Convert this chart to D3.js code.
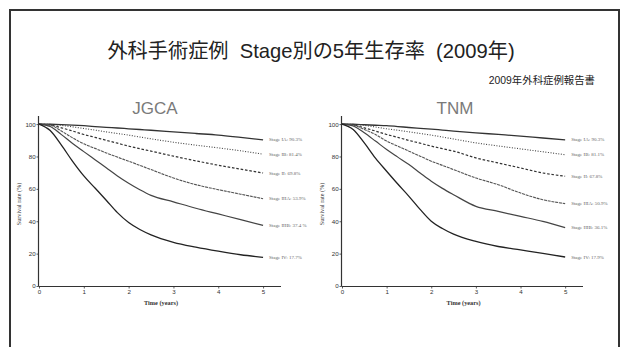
<!DOCTYPE html>
<html><head><meta charset="utf-8">
<script src="https://cdn.jsdelivr.net/npm/d3@7/dist/d3.min.js"></script>
<style>body{margin:0;background:#fff;}svg{display:block;}</style>
</head><body>
<svg id="c" width="623" height="347"></svg>
<script>
const times = [0,0.25,0.5,0.75,1,1.25,1.5,1.75,2,2.25,2.5,3,3.5,4,4.5,5];
const stages = ["IA","IB","II","IIIA","IIIB","IV"];
const xTicks = [0,1,2,3,4,5];
const yTicks = [0,20,40,60,80,100];

const jgcaIA   = [100,99.9,99.7,99.4,99,98.5,98,97.6,97.1,96.65,96.2,95.2,94.2,93.2,91.8,90.3];
const jgcaIB   = [100,99.8,99.2,98.3,97.3,96.3,95.2,94.2,93.2,92.0,90.9,88.8,87,85.3,83.5,81.4];
const jgcaII   = [100,99.4,97.7,95.7,93.6,91.8,90,88.2,86.4,84.8,83.3,80.2,77.3,74.6,72.2,69.8];
const jgcaIIIA = [100,99.4,95.7,91.5,87.8,85,82.2,79.6,77.1,74.5,71.9,66.7,62.6,59.5,56.7,53.9];
const jgcaIIIB = [100,98.5,93.5,88,83,78,73,68,63.5,59.5,56,52,48,44.5,41,37.4];
const jgcaIV   = [100,96,87,77,68,60.5,53,45.3,39.2,34.9,31.6,27,24,21.5,19.3,17.7];
const jgcaLabels = ["Stage IA: 90.3%","Stage IB: 81.4%","Stage II: 69.8%","Stage IIIA: 53.9%","Stage IIIB: 37.4 %","Stage IV: 17.7%"];

const tnmIA   = [100,99.9,99.6,99.3,99,98.5,97.9,97.4,96.9,96.3,95.7,94.6,93.6,92.6,91.4,90.3];
const tnmIB   = [100,99.8,99.2,98.2,97.1,96.2,95.2,94.2,93.2,92.0,90.8,88.4,86.5,84.7,82.9,81.1];
const tnmII   = [100,99.4,97.7,95.7,93.6,91.8,89.9,88.2,86.4,84.8,83.3,79.1,76,72.9,69.8,67.8];
const tnmIIIA = [100,99.4,96.7,93.6,89.5,86.4,83.3,80.2,77.1,74.5,71.9,66.7,62.6,57.4,53.3,50.9];
const tnmIIIB = [100,98.8,94.6,89.5,84.3,79.6,75,69.8,64.7,60.3,56.4,49.2,46.1,43,39.9,36.1];
const tnmIV   = [100,96.7,88.4,79,70.9,63,55.4,47.3,40,35.5,32,27.5,24.4,22.3,20.2,17.9];
const tnmLabels = ["Stage IA: 90.3%","Stage IB: 81.1%","Stage II: 67.8%","Stage IIIA: 50.9%","Stage IIIB: 36.1%","Stage IV: 17.9%"];

const styles = [
  {stroke:"#333", dash:null, w:1.3},
  {stroke:"#444", dash:"1,1.6", w:1.1},
  {stroke:"#333", dash:"2.6,1.8", w:1.2},
  {stroke:"#555", dash:"3,0.8", w:1.1},
  {stroke:"#444", dash:null, w:1.2},
  {stroke:"#222", dash:null, w:1.3}
];

const svg = d3.select("#c");
const sans = "'Liberation Sans', Arial, 'Noto Sans CJK JP', sans-serif";
const serif = "'Liberation Serif', 'Times New Roman', serif";

// slide frame
svg.append("path").attr("d","M10,400 V10 H619 V400").attr("fill","none").attr("stroke","#333").attr("stroke-width",2);

// title
svg.append("text").attr("x",311).attr("y",58).attr("text-anchor","middle")
  .attr("font-family",sans).attr("font-size",20.2).attr("fill","#222")
  .attr("xml:space","preserve").style("white-space","pre")
  .text("外科手術症例  Stage別の5年生存率  (2009年)");
svg.append("text").attr("x",595).attr("y",83.5).attr("text-anchor","end")
  .attr("font-family",sans).attr("font-size",10.4).attr("fill","#222")
  .text("2009年外科症例報告書");

function panel(title, titleX, x0, x1, curves, labels){
  const x = d3.scaleLinear().domain([0,5.4]).range([x0,x1]);
  const y = d3.scaleLinear().domain([0,105]).range([286,116]);
  svg.append("text").attr("x",titleX).attr("y",113.5).attr("text-anchor","middle")
    .attr("font-family",sans).attr("font-size",17).attr("fill","#7a7a7a").text(title);

  const gx = svg.append("g").attr("transform","translate(0,286)")
    .call(d3.axisBottom(x).tickValues(xTicks).tickSize(2.5).tickPadding(1.5).tickFormat(d3.format("d")));
  const gy = svg.append("g").attr("transform",`translate(${x0},0)`)
    .call(d3.axisLeft(y).tickValues(yTicks).tickSize(2.5).tickPadding(0.8).tickFormat(d3.format("d")));
  [gx,gy].forEach(g=>{
    g.select(".domain").attr("stroke","#333").attr("stroke-width",1.2);
    g.selectAll(".tick line").attr("stroke","#333").attr("stroke-width",0.8);
    g.selectAll("text").attr("font-family",sans).attr("font-size",6.2).attr("fill","#333");
  });
  gx.select(".domain").attr("d",`M${x0},0.5H${x1}`);
  gy.select(".domain").attr("d",`M-0.5,286V116`);

  svg.append("text").attr("x",(x(0)+x(5))/2+10).attr("y",305)
    .attr("text-anchor","middle").attr("font-family",serif).attr("font-weight","bold")
    .attr("font-size",6.3).attr("fill","#333").text("Time (years)");
  svg.append("text").attr("transform",`translate(${x0-18},204) rotate(-90)`)
    .attr("text-anchor","middle").attr("font-family",serif)
    .attr("font-size",6.2).attr("fill","#333").text("Survival rate (%)");

  const line = d3.line().x((d,i)=>x(times[i])).y(d=>y(d)).curve(d3.curveMonotoneX);
  curves.forEach((c,k)=>{
    const s = styles[k];
    svg.append("path").datum(c).attr("d",line).attr("fill","none")
      .attr("stroke",s.stroke).attr("stroke-width",s.w)
      .attr("stroke-dasharray",s.dash);
    svg.append("text").attr("x",x(5)+6).attr("y",y(c[c.length-1])+1.6)
      .attr("font-family",serif).attr("font-size",5).attr("fill","#666")
      .text(labels[k]);
  });
}

panel("JGCA", 155, 39, 281, [jgcaIA,jgcaIB,jgcaII,jgcaIIIA,jgcaIIIB,jgcaIV], jgcaLabels);
panel("TNM", 455, 342, 583, [tnmIA,tnmIB,tnmII,tnmIIIA,tnmIIIB,tnmIV], tnmLabels);
</script>
</body></html>
